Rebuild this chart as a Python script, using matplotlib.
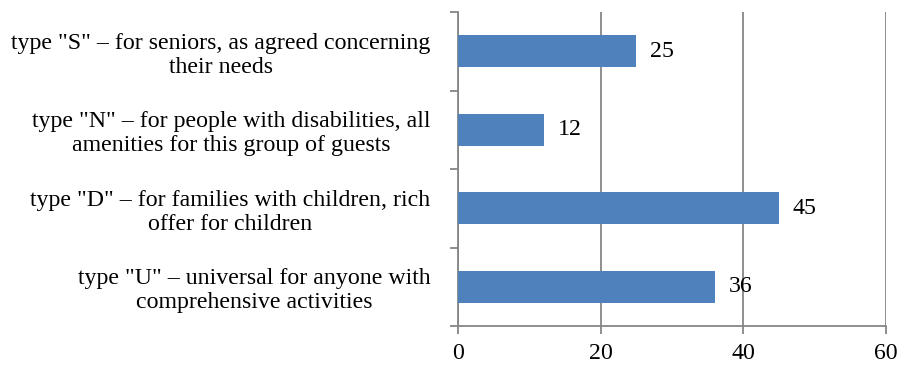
import matplotlib
matplotlib.use("Agg")
import matplotlib.pyplot as plt

categories = [
    'type "U" – universal for anyone with\ncomprehensive activities',
    'type "D" – for families with children, rich\noffer for children',
    'type "N" – for people with disabilities, all\namenities for this group of guests',
    'type "S" – for seniors, as agreed concerning\ntheir needs',
]
values = [36, 45, 12, 25]
xticks = [0, 20, 40, 60]

plt.rcParams['font.family'] = ['Liberation Serif', 'DejaVu Serif']
FS = 17.2

fig = plt.figure(figsize=(9.01, 3.65), dpi=100)
ax = fig.add_axes([458/901, 1 - 326/365, (885.7 - 458)/901, (326 - 12)/365])

pos = list(range(len(values)))
bars = ax.barh(pos, values, height=0.41, color='#4F81BD', zorder=3)
for p, v in zip(pos, values):
    ax.annotate(str(v), (v, p), xytext=(10, 0), textcoords='offset points',
                ha='left', va='center', fontsize=FS, zorder=5)

ax.set_xlim(0, 60)
ax.set_ylim(-0.5, len(values) - 0.5)
ax.set_xticks(xticks)
ax.set_xticklabels([str(t) for t in xticks], fontsize=FS)
ax.xaxis.grid(True, color='#868686', linewidth=1.3, zorder=0)

ax.set_yticks(pos)
ax.set_yticklabels(categories, fontsize=FS, multialignment='center', linespacing=1.19)
ax.tick_params(axis='y', which='major', length=0, pad=20)
ax.set_yticks([p - 0.5 for p in pos] + [len(values) - 0.5], minor=True)
ax.tick_params(axis='y', which='minor', length=5.5, width=1.3, color='#868686', direction='out')
ax.tick_params(axis='x', length=5.5, width=1.3, color='#868686', pad=7)

for s in ['top', 'right']:
    ax.spines[s].set_visible(False)
for s in ['left', 'bottom']:
    ax.spines[s].set_color('#868686')
    ax.spines[s].set_linewidth(1.3)

fig.savefig('out.png', dpi=100)
